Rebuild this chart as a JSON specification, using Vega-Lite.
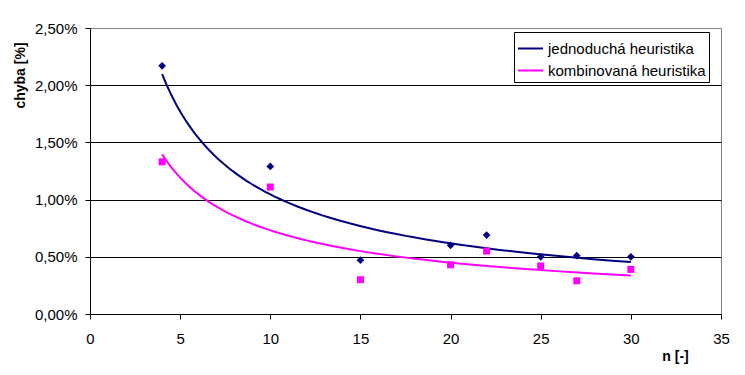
{
  "$schema": "https://vega.github.io/schema/vega-lite/v6.json",
  "width": 631,
  "height": 286,
  "autosize": {"type": "none"},
  "padding": {"left": 90, "top": 28, "right": 24, "bottom": 61},
  "background": "white",
  "config": {
    "locale": {"number": {"decimal": ",", "thousands": " ", "grouping": [3], "currency": ["", " Kč"]}},
    "font": "Liberation Sans",
    "view": {"stroke": "#808080", "strokeWidth": 1},
    "axis": {
      "domainColor": "black",
      "tickColor": "black",
      "tickSize": 5,
      "labelColor": "black",
      "labelFontSize": 15,
      "labelFont": "Liberation Sans",
      "titleFont": "Liberation Sans",
      "titleFontSize": 14,
      "titleFontWeight": "bold",
      "titleColor": "black",
      "labelOverlap": false
    }
  },
  "data": {
    "values": [
      {"serie": "jednoduchá heuristika", "n": 4, "chyba": 0.0217},
      {"serie": "jednoduchá heuristika", "n": 10, "chyba": 0.0129},
      {"serie": "jednoduchá heuristika", "n": 15, "chyba": 0.0047},
      {"serie": "jednoduchá heuristika", "n": 20, "chyba": 0.0060},
      {"serie": "jednoduchá heuristika", "n": 22, "chyba": 0.0069},
      {"serie": "jednoduchá heuristika", "n": 25, "chyba": 0.0050},
      {"serie": "jednoduchá heuristika", "n": 27, "chyba": 0.0051},
      {"serie": "jednoduchá heuristika", "n": 30, "chyba": 0.0050},
      {"serie": "kombinovaná heuristika", "n": 4, "chyba": 0.0133},
      {"serie": "kombinovaná heuristika", "n": 10, "chyba": 0.0111},
      {"serie": "kombinovaná heuristika", "n": 15, "chyba": 0.0030},
      {"serie": "kombinovaná heuristika", "n": 20, "chyba": 0.0043},
      {"serie": "kombinovaná heuristika", "n": 22, "chyba": 0.0055},
      {"serie": "kombinovaná heuristika", "n": 25, "chyba": 0.0042},
      {"serie": "kombinovaná heuristika", "n": 27, "chyba": 0.0029},
      {"serie": "kombinovaná heuristika", "n": 30, "chyba": 0.0039}
    ]
  },
  "encoding": {
    "x": {
      "field": "n", "type": "quantitative",
      "scale": {"domain": [0, 35], "nice": false, "zero": false},
      "axis": {
        "values": [0, 5, 10, 15, 20, 25, 30, 35],
        "grid": false,
        "labelFlush": false,
        "labelPadding": 12,
        "title": "n [-]",
        "titleX": 585, "titleY": 42,
        "titleAlign": "center", "titleBaseline": "middle", "titleAnchor": null
      }
    },
    "y": {
      "field": "chyba", "type": "quantitative",
      "scale": {"domain": [0, 0.025], "nice": false},
      "axis": {
        "values": [0, 0.005, 0.01, 0.015, 0.02, 0.025],
        "format": ".2%",
        "grid": true,
        "gridColor": {"condition": {"test": "datum.value >= 0.025", "value": "#808080"}, "value": "black"},
        "gridOpacity": 1,
        "labelPadding": 8,
        "title": "chyba [%]",
        "titleX": -70, "titleY": 47,
        "titleAlign": "center", "titleBaseline": "middle", "titleAngle": -90
      }
    }
  },
  "layer": [
    {
      "transform": [{"regression": "chyba", "on": "n", "method": "pow", "groupby": ["serie"], "extent": [4, 30]}],
      "mark": {"type": "line", "strokeWidth": 2},
      "encoding": {
        "color": {
          "field": "serie", "type": "nominal",
          "scale": {"domain": ["jednoduchá heuristika", "kombinovaná heuristika"], "range": ["#000080", "#FF00FF"]},
          "legend": {
            "title": null,
            "orient": "none",
            "legendX": 424,
            "legendY": 4,
            "symbolType": "stroke",
            "symbolSize": 625,
            "symbolStrokeWidth": 2,
            "labelFontSize": 15,
            "labelFont": "Liberation Sans",
            "labelColor": "black",
            "labelOffset": 4,
            "labelLimit": 300,
            "rowPadding": -3,
            "padding": 3,
            "strokeColor": "black",
            "fillColor": "white"
          }
        }
      }
    },
    {
      "transform": [{"filter": "datum.serie === 'jednoduchá heuristika'"}],
      "mark": {"type": "point", "shape": "diamond", "filled": true, "opacity": 1, "size": 60, "color": "#000080"}
    },
    {
      "transform": [{"filter": "datum.serie === 'kombinovaná heuristika'"}],
      "mark": {"type": "point", "shape": "square", "filled": true, "opacity": 1, "size": 49, "color": "#FF00FF"}
    }
  ]
}
